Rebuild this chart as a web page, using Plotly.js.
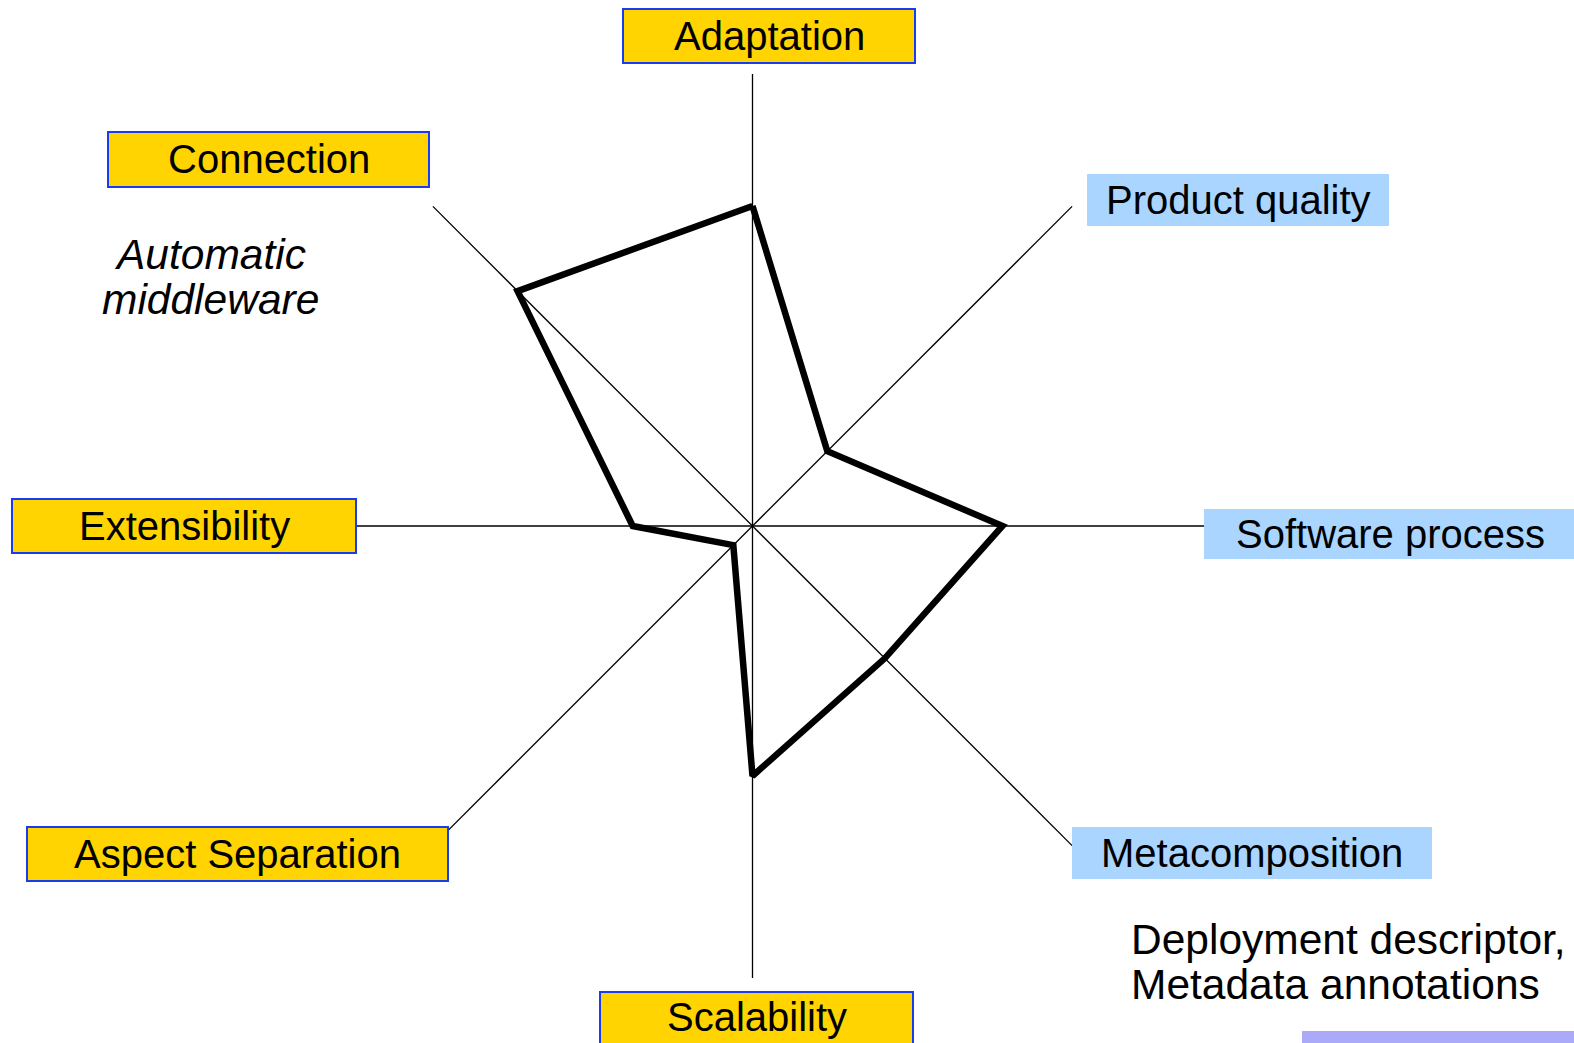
<!DOCTYPE html>
<html>
<head>
<meta charset="utf-8">
<script src="https://cdn.plot.ly/plotly-3.0.1.min.js"></script>
<style>
  html, body { margin: 0; padding: 0; background: #fff; }
  #chart { width: 1574px; height: 1043px; }
</style>
</head>
<body>
<div id="chart"></div>
<script>
// Axes of the radar, clockwise from the top
const categories = ["Adaptation", "Product quality", "Software process", "Metacomposition",
  "Scalability", "Aspect Separation", "Extensibility", "Connection"]
// Score on each axis (0-10)
const scores = [7.08, 2.34, 5.53, 4.14, 5.53, 0.6, 2.65, 7.35]
// Which labels sit in a yellow box (the rest are light blue)
const yellowLabels = ["Adaptation", "Connection", "Extensibility", "Aspect Separation", "Scalability"]
const noteLeft = ["Automatic", "middleware"]
const noteRight = ["Deployment descriptor,", "Metadata annotations"]

const W = 1574
const H = 1043
const FONT = "Liberation Sans, Arial, sans-serif"

// pixel -> paper helpers
const px = (x) => x / W
const py = (y) => 1 - y / H

// label boxes in pixels: [x0, y0, x1, y1]
const boxes = {
  "Adaptation": [623, 9, 915, 63],
  "Product quality": [1087, 174, 1389, 226],
  "Software process": [1204, 509, 1576, 559],
  "Metacomposition": [1072, 827, 1432, 879],
  "Scalability": [600, 992, 913, 1060],
  "Aspect Separation": [27, 827, 448, 881],
  "Extensibility": [12, 499, 356, 553],
  "Connection": [108, 132, 429, 187],
}

const shapes = []
const annotations = []

categories.forEach((name) => {
  const b = boxes[name]
  const yellow = yellowLabels.includes(name)
  shapes.push({
    type: "rect",
    xref: "paper",
    yref: "paper",
    x0: px(b[0]),
    x1: px(b[2]),
    y0: py(b[1]),
    y1: py(b[3]),
    fillcolor: yellow ? "#ffd400" : "#aad5ff",
    line: { color: yellow ? "#1a3cf0" : "rgba(0,0,0,0)", width: yellow ? 2 : 0 },
    layer: "above",
  })
  const cy = name === "Scalability" ? 1017 : (b[1] + b[3]) / 2
  annotations.push({
    xref: "paper",
    yref: "paper",
    x: px((b[0] + b[2]) / 2),
    y: py(cy),
    xanchor: "center",
    yanchor: "middle",
    text: name,
    showarrow: false,
    font: { family: FONT, size: 40, color: "#000" },
  })
})

// lavender strip bottom right
shapes.push({
  type: "rect",
  xref: "paper",
  yref: "paper",
  x0: px(1302),
  x1: px(1576),
  y0: py(1031),
  y1: py(1045),
  fillcolor: "#aaaaf8",
  line: { width: 0, color: "rgba(0,0,0,0)" },
  layer: "above",
})

// italic note on the left
noteLeft.forEach((line, i) => {
  annotations.push({
    xref: "paper",
    yref: "paper",
    x: px(210),
    y: py(254 + i * 45),
    xanchor: "center",
    yanchor: "middle",
    text: "<i>" + line + "</i>",
    showarrow: false,
    font: { family: FONT, size: 42.5, color: "#000" },
  })
})

// note on the bottom right
noteRight.forEach((line, i) => {
  annotations.push({
    xref: "paper",
    yref: "paper",
    x: px(1129),
    y: py(939 + i * 45.5),
    xanchor: "left",
    yanchor: "middle",
    text: line,
    showarrow: false,
    font: { family: FONT, size: 42.5, color: "#000" },
  })
})

const trace = {
  type: "scatterpolar",
  r: scores.concat([scores[0]]),
  theta: categories.concat([categories[0]]),
  mode: "lines",
  line: { color: "#000", width: 6.5 },
  hoverinfo: "skip",
}

const layout = {
  width: W,
  height: H,
  margin: { l: 0, r: 0, t: 0, b: 0 },
  paper_bgcolor: "#fff",
  showlegend: false,
  polar: {
    domain: { x: [300.5 / W, 1204.5 / W], y: [65 / H, 969 / H] },
    bgcolor: "#fff",
    radialaxis: {
      visible: false,
      range: [0, 10],
      showgrid: false,
      showline: false,
      showticklabels: false,
      ticks: "",
    },
    angularaxis: {
      type: "category",
      categoryarray: categories,
      direction: "clockwise",
      rotation: 90,
      showgrid: true,
      gridcolor: "#000",
      gridwidth: 1.3,
      showline: false,
      showticklabels: false,
      ticks: "",
    },
  },
  shapes: shapes,
  annotations: annotations,
}

Plotly.newPlot("chart", [trace], layout, { displayModeBar: false, staticPlot: true })
</script>
</body>
</html>
